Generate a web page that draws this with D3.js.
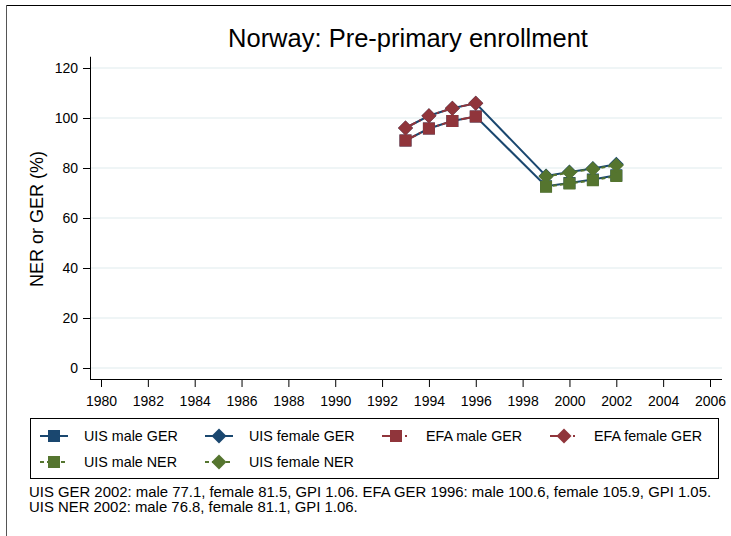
<!DOCTYPE html>
<html>
<head>
<meta charset="utf-8">
<script src="https://cdn.jsdelivr.net/npm/d3@7"></script>
<style>
  body { margin: 0; background: #fff; }
  svg { font-family: "Liberation Sans", Arial, sans-serif; }
</style>
</head>
<body>
<svg id="chart" width="731" height="536"></svg>
<script>
// data
var yearTicks = [1980, 1982, 1984, 1986, 1988, 1990, 1992, 1994, 1996, 1998, 2000, 2002, 2004, 2006];
var valueTicks = [0, 20, 40, 60, 80, 100, 120];

var years_uis = [1993, 1994, 1995, 1996, 1999, 2000, 2001, 2002];
var uis_male_ger = [91.0, 95.8, 98.8, 100.6, 72.7, 74.0, 75.4, 77.1];
var uis_female_ger = [96.0, 100.9, 103.9, 105.9, 76.8, 78.4, 79.8, 81.5];

var years_efa = [1993, 1994, 1995, 1996];
var efa_male_ger = [91.0, 95.8, 98.8, 100.6];
var efa_female_ger = [96.0, 100.9, 103.9, 105.9];

var years_ner = [1999, 2000, 2001, 2002];
var uis_male_ner = [72.5, 73.8, 75.1, 76.8];
var uis_female_ner = [76.6, 78.2, 79.6, 81.1];

var footer = [
    "UIS GER 2002: male 77.1, female 81.5, GPI 1.06. EFA GER 1996: male 100.6, female 105.9, GPI 1.05.",
    "UIS NER 2002: male 76.8, female 81.1, GPI 1.06."
];

var navy = "#1a476f", maroon = "#90353b", green = "#55752f";

var series = [
    { name: "UIS male GER", years: years_uis, values: uis_male_ger, color: navy, dash: null, marker: "square" },
    { name: "UIS female GER", years: years_uis, values: uis_female_ger, color: navy, dash: null, marker: "diamond" },
    { name: "EFA male GER", years: years_efa, values: efa_male_ger, color: maroon, dash: "12,3,2,3", marker: "square" },
    { name: "EFA female GER", years: years_efa, values: efa_female_ger, color: maroon, dash: "12,3,2,3", marker: "diamond" },
    { name: "UIS male NER", years: years_ner, values: uis_male_ner, color: green, dash: "4,3", marker: "square" },
    { name: "UIS female NER", years: years_ner, values: uis_female_ner, color: green, dash: "4,3", marker: "diamond" }
];

var svg = d3.select("#chart");

// outer frame (top and left edges visible)
svg.append("line").attr("x1", 6).attr("x2", 731).attr("y1", 5.5).attr("y2", 5.5)
    .style("stroke", "#000").style("stroke-width", 1.2);
svg.append("line").attr("x1", 6.5).attr("x2", 6.5).attr("y1", 5).attr("y2", 536)
    .style("stroke", "#555").style("stroke-width", 1);

var x = d3.scaleLinear().domain([1980, 2006]).range([101, 710]);
var y = d3.scaleLinear().domain([0, 120]).range([368, 68]);
var plotLeft = 90, plotRight = 722, plotBottom = 379;

// gridlines
svg.append("g").selectAll("line").data(valueTicks)
    .enter().append("line")
    .attr("x1", plotLeft).attr("x2", plotRight)
    .attr("y1", function (d) { return y(d); })
    .attr("y2", function (d) { return y(d); })
    .style("stroke", "#eaf2f3").style("stroke-width", 1.3);

// y axis
var yAxis = svg.append("g")
    .attr("transform", "translate(" + plotLeft + ",0)")
    .call(d3.axisLeft(y).tickValues(valueTicks).tickSize(7).tickPadding(5));
yAxis.select(".domain").attr("d", "M0.5," + y(120 + 4.5) + "V" + plotBottom);
yAxis.selectAll("text").style("font-size", "14px").style("fill", "#000");

// x axis
var xAxis = svg.append("g")
    .attr("transform", "translate(0," + plotBottom + ")")
    .call(d3.axisBottom(x).tickValues(yearTicks).tickFormat(d3.format("d")).tickSize(8).tickPadding(9));
xAxis.select(".domain").attr("d", "M" + plotLeft + ",0.5H" + plotRight);
xAxis.selectAll("text").style("font-size", "14px").style("fill", "#000");

// title and axis title
svg.append("text").attr("x", 408).attr("y", 47).attr("text-anchor", "middle")
    .style("font-size", "25.5px").text("Norway: Pre-primary enrollment");
svg.append("text").attr("transform", "translate(43,219) rotate(-90)").attr("text-anchor", "middle")
    .style("font-size", "18px").text("NER or GER (%)");

var line = d3.line()
    .x(function (d) { return x(d[0]); })
    .y(function (d) { return y(d[1]); });

function drawMarker(g, type, cx, cy, color) {
    if (type === "square") {
        g.append("rect").attr("x", cx - 6).attr("y", cy - 6).attr("width", 12).attr("height", 12)
            .style("fill", color);
    } else {
        var r = 7.5;
        g.append("path")
            .attr("d", "M" + cx + "," + (cy - r) + "L" + (cx + r) + "," + cy + "L" + cx + "," + (cy + r) + "L" + (cx - r) + "," + cy + "Z")
            .style("fill", color);
    }
}

var plot = svg.append("g");
series.forEach(function (s) {
    var pts = s.years.map(function (yr, i) { return [yr, s.values[i]]; });
    var g = plot.append("g");
    g.append("path").datum(pts)
        .attr("d", line)
        .style("fill", "none")
        .style("stroke", s.color)
        .style("stroke-width", 2)
        .style("stroke-dasharray", s.dash);
    pts.forEach(function (p) { drawMarker(g, s.marker, x(p[0]), y(p[1]), s.color); });
});

// legend
var legend = svg.append("g");
legend.append("rect").attr("x", 30.5).attr("y", 418.5).attr("width", 688).attr("height", 60)
    .style("fill", "none").style("stroke", "#000").style("stroke-width", 1);
var legendX = [40, 205, 382, 550];
var legendY = [436, 462];
series.forEach(function (s, i) {
    var lx = legendX[i % 4], ly = legendY[Math.floor(i / 4)];
    var g = legend.append("g");
    g.append("line").attr("x1", lx).attr("x2", lx + 28).attr("y1", ly).attr("y2", ly)
        .style("stroke", s.color).style("stroke-width", 2)
        .style("stroke-dasharray", s.dash ? (s.dash === "4,3" ? "4,3" : "19,4,2,3") : null);
    drawMarker(g, s.marker, lx + 14, ly, s.color);
    g.append("text").attr("x", lx + 44).attr("y", ly + 5)
        .style("font-size", "14.3px").text(s.name);
});

// footer notes
svg.append("g").selectAll("text").data(footer)
    .enter().append("text")
    .attr("x", 29).attr("y", function (d, i) { return 497 + i * 14.5; })
    .style("font-size", "14.9px")
    .text(function (d) { return d; });
</script>
</body>
</html>
